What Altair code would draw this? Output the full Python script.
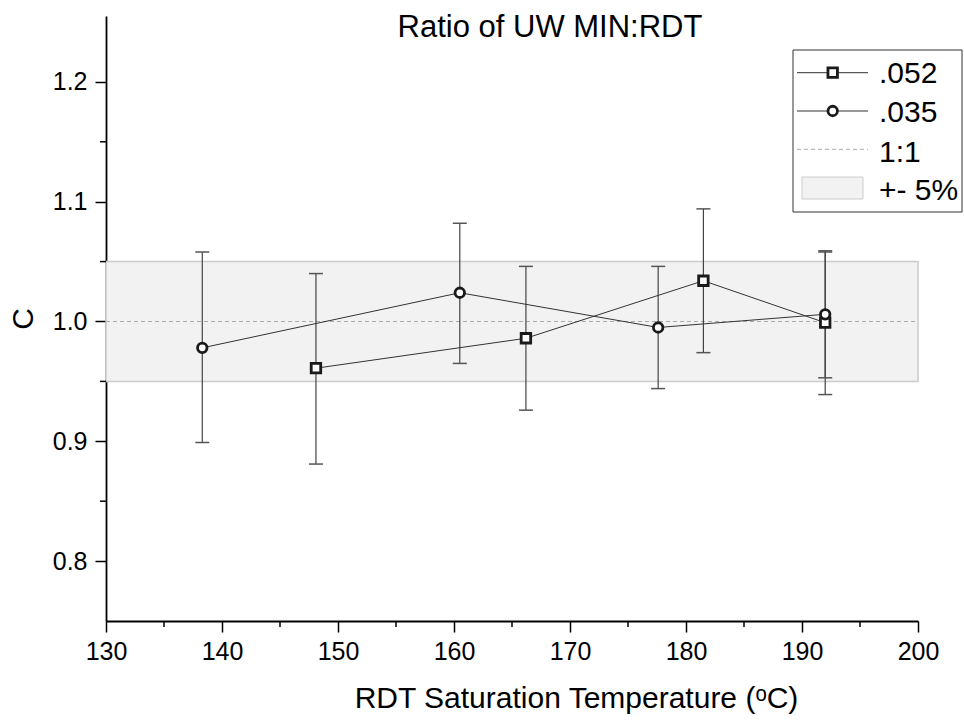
import altair as alt
import pandas as pd

# ---- data ----
series_names = [".052", ".035"]
x_052 = [148.1, 166.2, 181.5, 192.0]
y_052 = [0.961, 0.986, 1.034, 0.999]
hi_052 = [1.040, 1.046, 1.094, 1.058]
lo_052 = [0.881, 0.926, 0.974, 0.939]

x_035 = [138.3, 160.5, 177.6, 192.0]
y_035 = [0.978, 1.024, 0.995, 1.006]
hi_035 = [1.058, 1.082, 1.046, 1.059]
lo_035 = [0.899, 0.965, 0.944, 0.953]

x_ticks = [130, 140, 150, 160, 170, 180, 190, 200]
x_minor = [135, 145, 155, 165, 175, 185, 195]
y_ticks = [0.8, 0.9, 1.0, 1.1, 1.2]
y_minor = [0.85, 0.95, 1.05, 1.15]
x_domain = [130, 200]
y_domain = [0.75, 1.255]
band_lo, band_hi = 0.95, 1.05
ref_value = 1.0
legend_labels = [".052", ".035", "1:1", "+- 5%"]
title_text = "Ratio of UW MIN:RDT"
x_title = "RDT Saturation Temperature (ᵒC)"
y_title = "C"

FONT = "Liberation Sans"

df = pd.concat([
    pd.DataFrame({"series": series_names[0], "x": x_052, "y": y_052, "lo": lo_052, "hi": hi_052}),
    pd.DataFrame({"series": series_names[1], "x": x_035, "y": y_035, "lo": lo_035, "hi": hi_035}),
], ignore_index=True)

band_df = pd.DataFrame({"x": [x_domain[0]], "x2": [x_domain[1]], "y": [band_lo], "y2": [band_hi]})
ref_df = pd.DataFrame({"x": [x_domain[0]], "x2": [x_domain[1]], "y": [ref_value]})
ymin_df = pd.DataFrame({"y": y_minor})
xmin_df = pd.DataFrame({"x": x_minor})

xs = alt.Scale(domain=x_domain, nice=False, zero=False)
ys = alt.Scale(domain=y_domain, nice=False, zero=False)

x_axis = alt.Axis(values=x_ticks, format="d", title=x_title, grid=False,
                  labelFontSize=25, labelPadding=7, tickSize=11,
                  titleFontSize=30, titlePadding=19, titleX=470, labelFlush=False)
y_axis = alt.Axis(values=y_ticks, format=".1f", title=y_title, grid=False,
                  labelFontSize=25, labelPadding=8, tickSize=11,
                  titleFontSize=30, titlePadding=14, labelFlush=False)

X = alt.X("x:Q", scale=xs, axis=x_axis)
Y = alt.Y("y:Q", scale=ys, axis=y_axis)

band = alt.Chart(band_df).mark_rect(fill="#f2f2f2", stroke="#cccccc", strokeWidth=1.5).encode(
    x=X, x2="x2:Q", y=Y, y2="y2:Q")

ref = alt.Chart(ref_df).mark_rule(color="#aaaaaa", strokeDash=[4, 3], strokeWidth=1).encode(
    x=X, x2="x2:Q", y=Y)

err = alt.Chart(df).mark_rule(color="#444444", strokeWidth=1.2).encode(
    x=X, y=alt.Y("lo:Q", scale=ys, axis=y_axis), y2="hi:Q")

cap_lo = alt.Chart(df).mark_tick(orient="horizontal", size=14, thickness=1.5, color="#555555", opacity=1).encode(
    x=X, y=alt.Y("lo:Q", scale=ys, axis=y_axis))
cap_hi = alt.Chart(df).mark_tick(orient="horizontal", size=14, thickness=1.5, color="#555555", opacity=1).encode(
    x=X, y=alt.Y("hi:Q", scale=ys, axis=y_axis))

lines = alt.Chart(df).mark_line(color="#333333", strokeWidth=1).encode(
    x=X, y=Y, detail="series:N", order="x:Q")

shape_scale = alt.Scale(domain=series_names, range=["square", "circle"])
points = alt.Chart(df).mark_point(filled=True, fill="white", stroke="#1a1a1a", strokeWidth=2.8,
                                  size=90, opacity=1).encode(
    x=X, y=Y, shape=alt.Shape("series:N", scale=shape_scale, legend=None))

ymin = alt.Chart(ymin_df).mark_rule(color="black", strokeWidth=1.5).encode(
    x=alt.value(-6), x2=alt.value(0), y=Y)
xmin = alt.Chart(xmin_df).mark_rule(color="black", strokeWidth=1.5).encode(
    x=X, y=alt.value(605), y2=alt.value(611))

one = pd.DataFrame({"k": [0]})

title = alt.Chart(one).mark_text(text=title_text, font=FONT, fontSize=31, align="center",
                                 baseline="alphabetic", color="black").encode(
    x=alt.value(444), y=alt.value(21))

# ---- legend (drawn manually) ----
leg_box = alt.Chart(one).mark_rect(fill="white", stroke="#333333", strokeWidth=1).encode(
    x=alt.value(687), x2=alt.value(856), y=alt.value(34), y2=alt.value(196))

leg_layers = [leg_box]
row_y = [56.7, 95.0, 133.3, 172.0]
text_base = [67, 105.7, 145.7, 184]
for i, shp in enumerate(["square", "circle"]):
    leg_layers.append(alt.Chart(one).mark_rule(color="#333333", strokeWidth=1).encode(
        x=alt.value(691), x2=alt.value(762), y=alt.value(row_y[i])))
    leg_layers.append(alt.Chart(one).mark_point(shape=shp, filled=True, fill="white", stroke="#1a1a1a",
                                                strokeWidth=2.8, size=90, opacity=1).encode(
        x=alt.value(726.7), y=alt.value(row_y[i])))
leg_layers.append(alt.Chart(one).mark_rule(color="#aaaaaa", strokeDash=[4, 3], strokeWidth=1).encode(
    x=alt.value(691), x2=alt.value(762), y=alt.value(row_y[2])))
leg_layers.append(alt.Chart(one).mark_rect(fill="#f2f2f2", stroke="#cccccc", strokeWidth=1).encode(
    x=alt.value(696), x2=alt.value(757), y=alt.value(161), y2=alt.value(183)))
for i, lab in enumerate(legend_labels):
    leg_layers.append(alt.Chart(one).mark_text(text=lab, font=FONT, fontSize=30, align="left",
                                               baseline="alphabetic", color="black").encode(
        x=alt.value(773), y=alt.value(text_base[i])))

chart = alt.layer(band, ref, err, cap_lo, cap_hi, lines, points, ymin, xmin, title, *leg_layers).properties(
    width=812, height=605,
    autosize=alt.AutoSizeParams(type="none"),
    padding={"left": 106, "top": 16, "right": 46, "bottom": 101},
    background="white",
).configure_view(stroke=None).configure_axis(
    labelFont=FONT, titleFont=FONT, labelColor="black", titleColor="black",
    titleFontWeight="normal", domainColor="black", domainWidth=1.8,
    tickColor="black", tickWidth=1.5,
)

chart.save("out.html", embed_options={"renderer": "svg", "actions": False})
